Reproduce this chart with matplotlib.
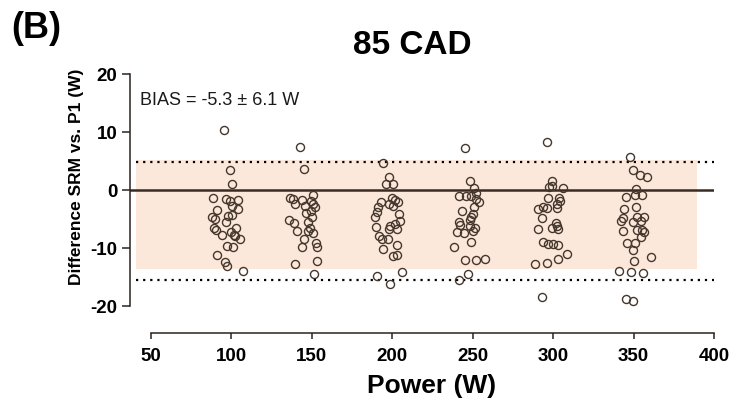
import matplotlib
matplotlib.use("Agg")
import matplotlib.pyplot as plt

plt.rcParams['font.family'] = ['Liberation Sans', 'DejaVu Sans']
plt.rcParams['axes.unicode_minus'] = False

# ---- data ----
x_100 = [95.5, 99.1, 100.5, 88.7, 96.6, 99.1, 104.3, 100.1, 103.9, 91.2, 88.1, 89.9, 98.0, 100.5,
         96.6, 89.2, 90.2, 102.9, 99.9, 93.9, 101.4, 102.4, 105.4, 97.0, 100.7, 91.2, 96.0, 97.0, 107.0]
y_100 = [10.4, 3.4, 1.0, -1.4, -1.6, -1.9, -1.8, -2.8, -3.3, -3.4, -4.7, -5.0, -4.5, -4.3,
         -5.6, -6.6, -6.9, -6.6, -7.2, -7.8, -7.8, -8.0, -8.4, -9.6, -9.9, -11.2, -12.4, -13.1, -14.0]

x_150 = [142.6, 145.1, 150.9, 136.4, 138.5, 144.1, 149.5, 151.0, 139.5, 145.9, 152.0, 149.5, 146.6, 150.4,
         136.0, 139.0, 140.6, 147.8, 148.8, 147.8, 150.9, 145.1, 143.6, 152.5, 153.5, 139.5, 153.3, 151.5]
y_150 = [7.4, 3.6, -0.8, -1.3, -1.6, -1.7, -1.9, -2.4, -2.5, -2.8, -3.0, -3.6, -4.0, -4.6,
         -5.2, -5.7, -7.0, -5.6, -6.6, -7.0, -7.4, -8.4, -9.9, -9.2, -9.9, -12.8, -12.3, -14.5]

x_200 = [194.0, 198.1, 196.0, 200.2, 199.6, 192.8, 201.6, 203.3, 198.1, 200.6, 191.3, 190.7, 189.2, 204.2,
         204.9, 189.8, 198.5, 201.6, 198.1, 203.1, 191.9, 193.4, 197.5, 203.1, 194.3, 200.6, 203.1, 205.8,
         190.6, 198.5]
y_200 = [4.7, 2.2, 1.0, 1.0, -1.3, -2.1, -1.7, -2.0, -2.4, -2.7, -3.0, -3.8, -4.7, -4.1,
         -5.4, -6.3, -6.2, -5.8, -6.8, -6.8, -8.0, -8.5, -8.4, -9.5, -10.2, -11.4, -11.2, -14.2,
         -14.8, -16.2]

x_250 = [245.2, 248.3, 250.8, 241.6, 245.8, 248.9, 252.0, 252.3, 253.8, 251.1, 243.6, 250.2, 249.2, 248.2,
         241.6, 242.4, 248.5, 251.7, 250.2, 240.4, 244.6, 248.7, 238.3, 245.2, 252.0, 257.6, 247.2, 241.6]
y_250 = [7.2, 1.6, 0.3, -1.0, -1.0, -1.1, -0.5, -1.6, -2.1, -3.0, -3.7, -4.2, -4.7, -5.2,
         -5.6, -6.1, -6.2, -6.5, -7.0, -7.2, -7.5, -9.0, -9.8, -12.1, -12.1, -11.9, -14.5, -15.5]

x_300 = [295.9, 299.0, 299.6, 297.5, 306.3, 297.0, 303.9, 304.3, 302.6, 293.4, 290.7, 296.0, 302.2, 292.8,
         301.7, 302.6, 299.2, 303.1, 290.3, 293.4, 297.0, 300.2, 303.1, 308.8, 303.1, 296.0, 288.6, 292.8]
y_300 = [8.3, 1.6, 0.7, 0.5, 0.3, -1.3, -1.3, -1.9, -2.4, -3.0, -3.3, -3.1, -3.1, -4.9,
         -5.7, -6.2, -6.6, -6.7, -6.7, -9.0, -9.3, -9.3, -9.5, -11.0, -11.9, -12.6, -12.8, -18.5]

x_350 = [347.7, 349.7, 353.9, 358.4, 351.4, 345.2, 350.8, 355.0, 351.4, 344.0, 343.6, 341.9, 352.0, 356.5,
         349.8, 354.7, 355.0, 351.9, 343.6, 356.5, 354.7, 346.0, 350.8, 349.7, 350.0, 361.1, 341.0, 348.2,
         355.6, 345.6, 349.7]
y_350 = [5.7, 3.4, 2.6, 2.2, 0.2, -1.2, -0.9, -0.9, -3.0, -3.3, -4.8, -5.3, -4.6, -4.6,
         -5.5, -5.4, -6.9, -6.9, -7.1, -7.3, -8.1, -9.2, -9.2, -10.3, -12.3, -11.6, -13.9, -14.2,
         -14.3, -18.8, -19.1]

upper_loa = 4.8
lower_loa = -15.6
band_top = 5.2
band_bottom = -13.6
band_left = 40.7
band_right = 389.3
bias_text = "BIAS = -5.3 \u00b1 6.1 W"

x_ticks = [50, 100, 150, 200, 250, 300, 350, 400]
y_ticks = [-20, -10, 0, 10, 20]

# ---- figure ----
W, H = 735, 402
fig = plt.figure(figsize=(W / 100, H / 100), dpi=100)
ax_left, ax_right, ax_top, ax_bottom = 130, 714, 75, 334
ax = fig.add_axes([ax_left / W, (H - ax_bottom) / H, (ax_right - ax_left) / W, (ax_bottom - ax_top) / H])

dark = '#2b221c'
edge = '#45372d'

ax.set_xlim(36.95, 400)
ax.set_ylim(-24.66, 20)

ax.fill_between([band_left, band_right], band_bottom, band_top, color='#fbe8da', lw=0, zorder=0)
ax.axhline(0, color='#3a2b22', lw=1.8, zorder=2)
for v in (upper_loa, lower_loa):
    ax.hlines(v, band_left, 400, colors='black', lw=1.6, linestyles=(0, (1, 2.2)), zorder=2)

for xs, ys in [(x_100, y_100), (x_150, y_150), (x_200, y_200), (x_250, y_250), (x_300, y_300), (x_350, y_350)]:
    ax.plot(xs, ys, linestyle='none', marker='o', markersize=5.8, markerfacecolor='none',
            markeredgecolor=edge, markeredgewidth=1.0, zorder=3, clip_on=False)

for s in ('top', 'right'):
    ax.spines[s].set_visible(False)
ax.spines['left'].set_bounds(-20, 20)
ax.spines['bottom'].set_bounds(50, 400)
for s in ('left', 'bottom'):
    ax.spines[s].set_linewidth(1.1)
    ax.spines[s].set_color(dark)

ax.set_xticks(x_ticks)
ax.set_yticks(y_ticks)
ax.tick_params(axis='y', length=6, width=1.1, color=dark, pad=3)
ax.tick_params(axis='x', length=4, width=1.1, color=dark, pad=6)
for lab in ax.get_xticklabels() + ax.get_yticklabels():
    lab.set_fontweight('bold')
    lab.set_fontsize(13.5)
    lab.set_color('black')

ax.text(43, 15.6, bias_text, fontsize=13, color='#1a1a1a', va='center', ha='left')

fig.text(432 / W, 1 - 386 / H, 'Power (W)', fontsize=19, fontweight='bold', ha='center', va='center')
fig.text(76 / W, 1 - 177 / H, 'Difference SRM vs. P1 (W)', fontsize=12.5, fontweight='bold',
         rotation=90, ha='center', va='center')
fig.text(412 / W, 1 - 46 / H, '85 CAD', fontsize=24, fontweight='bold', ha='center', va='center')
fig.text(11 / W, 1 - 28 / H, '(B)', fontsize=26, fontweight='bold', ha='left', va='center')

fig.savefig('out.png', dpi=100)
